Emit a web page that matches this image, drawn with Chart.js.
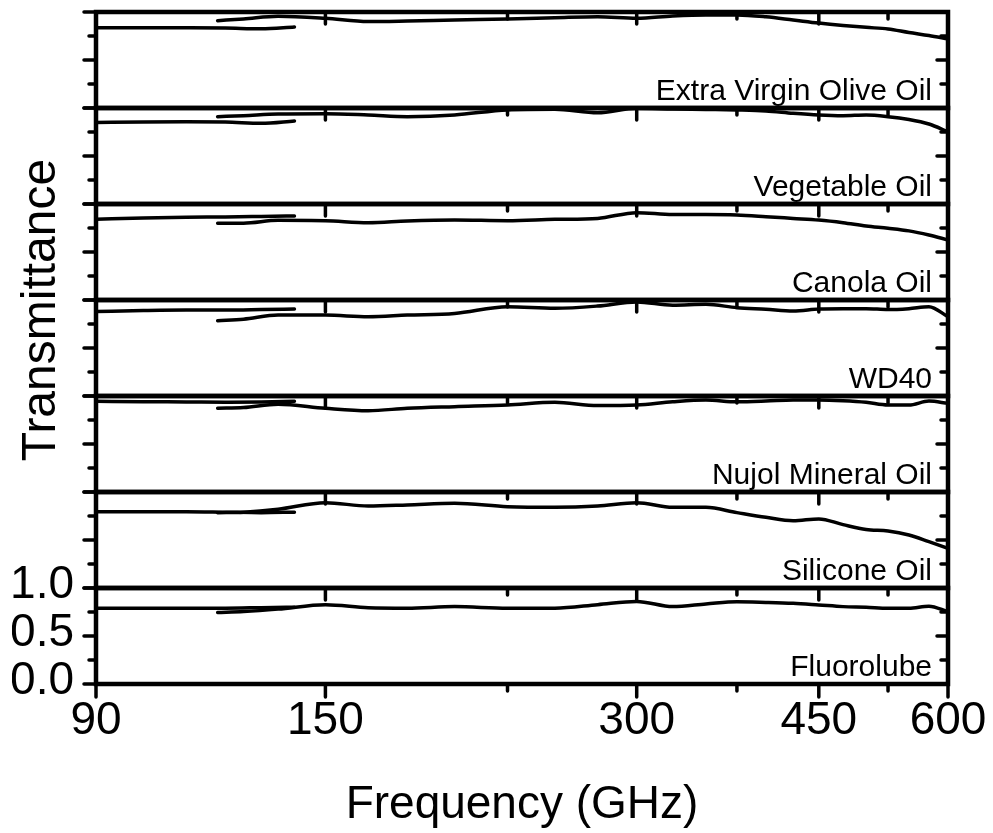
<!DOCTYPE html>
<html>
<head>
<meta charset="utf-8">
<title>Transmittance of oils</title>
<script src="https://cdn.jsdelivr.net/npm/chart.js@4.4.1/dist/chart.umd.min.js"></script>
<style>
  html, body { margin: 0; padding: 0; background: #fff; }
  canvas { display: block; }
</style>
</head>
<body>
<canvas id="spectra" width="993" height="833"></canvas>
<script>
// samples, top panel first
const samples = ["Extra Virgin Olive Oil", "Vegetable Oil", "Canola Oil", "WD40", "Nujol Mineral Oil", "Silicone Oil", "Fluorolube"];

// frequency grids (GHz) of the two source bands
const lowBandFreq = [90, 100, 110, 120, 130, 140];
const highBandFreq = [118, 125, 135, 150, 165, 180, 200, 225, 250, 275, 300, 325, 350, 375, 400, 425, 450, 475, 500, 525, 550, 575, 600];

// transmittance per sample
const oliveLow = [0.835, 0.835, 0.835, 0.833, 0.825, 0.845];
const oliveHigh = [0.91, 0.927, 0.955, 0.934, 0.9, 0.906, 0.917, 0.927, 0.94, 0.951, 0.934, 0.958, 0.969, 0.969, 0.95, 0.917, 0.885, 0.86, 0.84, 0.823, 0.786, 0.755, 0.72];

const vegLow = [0.85, 0.855, 0.857, 0.855, 0.84, 0.865];
const vegHigh = [0.91, 0.92, 0.937, 0.94, 0.927, 0.91, 0.927, 0.98, 0.986, 0.95, 0.997, 0.99, 0.985, 0.98, 0.97, 0.945, 0.927, 0.92, 0.927, 0.91, 0.88, 0.833, 0.753];

const canolaLow = [0.84, 0.855, 0.862, 0.865, 0.87, 0.875];
const canolaHigh = [0.8, 0.8, 0.83, 0.826, 0.805, 0.823, 0.833, 0.826, 0.84, 0.85, 0.91, 0.89, 0.89, 0.885, 0.868, 0.85, 0.833, 0.805, 0.77, 0.747, 0.72, 0.677, 0.625];

const wd40Low = [0.88, 0.89, 0.895, 0.895, 0.9, 0.906];
const wd40High = [0.784, 0.8, 0.843, 0.843, 0.826, 0.843, 0.86, 0.93, 0.913, 0.937, 0.98, 0.945, 0.955, 0.92, 0.903, 0.885, 0.906, 0.91, 0.91, 0.9, 0.91, 0.93, 0.826];

const nujolLow = [0.945, 0.94, 0.938, 0.935, 0.937, 0.945];
const nujolHigh = [0.872, 0.88, 0.915, 0.872, 0.847, 0.872, 0.889, 0.906, 0.934, 0.9, 0.906, 0.94, 0.958, 0.94, 0.947, 0.958, 0.958, 0.95, 0.934, 0.906, 0.906, 0.947, 0.924];

const siliconeLow = [0.795, 0.795, 0.795, 0.79, 0.785, 0.79];
const siliconeHigh = [0.785, 0.79, 0.82, 0.888, 0.854, 0.865, 0.882, 0.847, 0.84, 0.854, 0.889, 0.84, 0.84, 0.785, 0.736, 0.7, 0.72, 0.66, 0.61, 0.594, 0.552, 0.483, 0.414];

const fluoroLow = [0.79, 0.79, 0.79, 0.79, 0.795, 0.8];
const fluoroHigh = [0.745, 0.755, 0.78, 0.826, 0.795, 0.79, 0.806, 0.79, 0.79, 0.826, 0.86, 0.806, 0.833, 0.857, 0.85, 0.84, 0.823, 0.806, 0.8, 0.79, 0.79, 0.81, 0.753];

const lowSets = [oliveLow, vegLow, canolaLow, wd40Low, nujolLow, siliconeLow, fluoroLow];
const highSets = [oliveHigh, vegHigh, canolaHigh, wd40High, nujolHigh, siliconeHigh, fluoroHigh];

// axis ticks
const freqTicks = [90, 150, 300, 450, 600];
const freqMinorTicks = [225, 375, 525];
const transTicks = [0, 0.5, 1];
const transMinorTicks = [0.25, 0.75];

const FONT = '"Liberation Sans", Arial, Helvetica, sans-serif';
Chart.defaults.font.family = FONT;
Chart.defaults.color = '#000';

function curve(freqs, values, axis) {
  return {
    data: freqs.map((f, k) => ({ x: f, y: values[k] })),
    yAxisID: axis,
    borderColor: '#000',
    borderWidth: 3.5,
    borderCapStyle: 'round',
    borderJoinStyle: 'round',
    pointRadius: 0,
    fill: false,
    cubicInterpolationMode: 'monotone'
  };
}

const datasets = [];
samples.forEach((name, i) => {
  datasets.push(curve(lowBandFreq, lowSets[i], 'y' + i));
  datasets.push(curve(highBandFreq, highSets[i], 'y' + i));
});

const scales = {
  x: {
    type: 'logarithmic',
    min: 90,
    max: 600,
    position: 'bottom',
    grid: { display: false, drawTicks: false },
    border: { display: false },
    afterBuildTicks: s => { s.ticks = freqTicks.map(v => ({ value: v })); },
    afterFit: s => { s.height = 149; s.paddingLeft = 0; s.paddingRight = 0; },
    ticks: { autoSkip: false, maxRotation: 0, padding: 9.5, font: { size: 46 }, callback: v => String(v) },
    title: { display: true, text: 'Frequency (GHz)', font: { size: 46 }, padding: { top: 0, bottom: 0 } }
  }
};

samples.forEach((name, i) => {
  const last = i === samples.length - 1;
  scales['y' + i] = {
    type: 'linear',
    min: 0,
    max: 1,
    position: 'left',
    stack: 'panels',
    stackWeight: 1,
    weight: samples.length - i,
    grid: { display: false, drawTicks: false },
    border: { display: false },
    afterBuildTicks: s => { s.ticks = transTicks.map(v => ({ value: v })); },
    afterFit: s => { s.width = 84; s.paddingTop = 0; s.paddingBottom = 0; },
    ticks: { display: last, autoSkip: false, padding: 22, labelOffset: -3, font: { size: 46 }, callback: v => v.toFixed(1) }
  };
});

// frames, tick marks and sample names for each panel
const panelFrames = {
  id: 'panelFrames',
  afterDatasetsDraw(chart) {
    const { ctx, chartArea, scales } = chart;
    const xs = scales.x;
    const left = chartArea.left, right = chartArea.right;
    ctx.save();
    ctx.strokeStyle = '#000';
    ctx.fillStyle = '#000';
    ctx.lineCap = 'round';
    samples.forEach((name, i) => {
      const ys = scales['y' + i];
      const top = ys.getPixelForValue(1);
      const bottom = ys.getPixelForValue(0);
      ctx.lineWidth = 4.5;
      ctx.strokeRect(left, top, right - left, bottom - top);

      ctx.lineWidth = 3.5;
      ctx.beginPath();
      transTicks.concat(transMinorTicks).forEach(v => {
        const py = ys.getPixelForValue(v);
        const major = transTicks.includes(v);
        ctx.moveTo(left - (major ? 12 : 7), py);
        ctx.lineTo(left, py);
        if (v > 0 && v < 1) {
          ctx.moveTo(right, py);
          ctx.lineTo(right - (major ? 11 : 7), py);
        }
      });
      freqTicks.concat(freqMinorTicks).forEach(f => {
        const px = xs.getPixelForValue(f);
        ctx.moveTo(px, top);
        ctx.lineTo(px, top + (freqTicks.includes(f) ? 12 : 7));
      });
      ctx.stroke();

      ctx.font = '30px ' + FONT;
      ctx.textAlign = 'right';
      ctx.textBaseline = 'alphabetic';
      ctx.fillText(name, right - 16, bottom - 8.5);
    });

    // outward ticks on the frequency axis
    ctx.lineWidth = 3.5;
    ctx.beginPath();
    freqTicks.concat(freqMinorTicks).forEach(f => {
      const px = xs.getPixelForValue(f);
      ctx.moveTo(px, chartArea.bottom);
      ctx.lineTo(px, chartArea.bottom + (freqTicks.includes(f) ? 13 : 7));
    });
    ctx.stroke();

    // shared y title
    ctx.translate(55, 310);
    ctx.rotate(-Math.PI / 2);
    ctx.font = '48px ' + FONT;
    ctx.textAlign = 'center';
    ctx.textBaseline = 'alphabetic';
    ctx.fillText('Transmittance', 0, 0);
    ctx.restore();
  }
};

new Chart(document.getElementById('spectra'), {
  type: 'line',
  data: { datasets },
  options: {
    responsive: false,
    animation: false,
    layout: { padding: { left: 12, top: 12, right: 45, bottom: 0 } },
    plugins: { legend: { display: false }, tooltip: { enabled: false } },
    scales
  },
  plugins: [panelFrames]
});
</script>
</body>
</html>
